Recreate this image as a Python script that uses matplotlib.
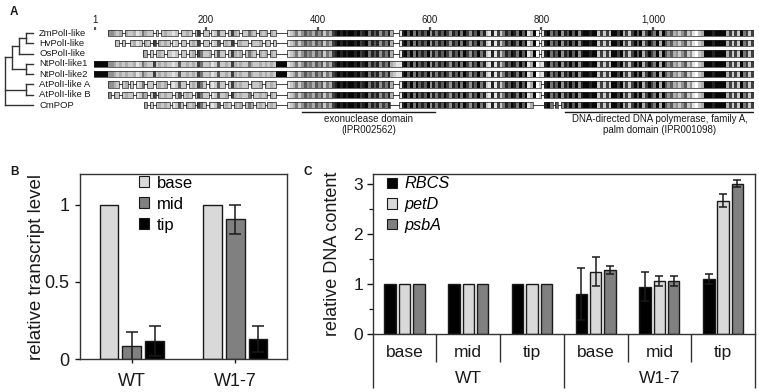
import matplotlib
matplotlib.use("Agg")
import matplotlib.pyplot as plt
from matplotlib.patches import Patch

plt.rcParams["font.family"] = ["Liberation Sans", "DejaVu Sans"]

# ---------------- panel A: alignment overview ----------------
seq_names = ["ZmPolI-like", "HvPolI-like", "OsPolI-like", "NtPolI-like1",
             "NtPolI-like2", "AtPolI-like A", "AtPolI-like B", "CmPOP"]
# tree topology, leaves are indices into seq_names
tree = ((((0, 1), 2), (3, 4)), (5, 6), 7)

# aligned stretches of each sequence (alignment columns, start/end)
zm_runs = [(25, 50), (55, 105), (110, 115), (120, 150), (155, 175), (180, 190), (195, 205),
           (210, 235), (240, 260), (265, 290), (295, 310), (315, 325), (345, 535), (545, 795),
           (800, 1180)]
hv_runs = [(38, 45), (50, 55), (65, 85), (90, 100), (105, 110), (115, 135), (140, 150),
           (155, 165), (170, 190), (195, 205), (210, 225), (230, 250), (255, 275), (280, 300),
           (305, 315), (320, 325), (345, 535), (545, 795), (800, 1180)]
os_runs = [(88, 95), (100, 105), (110, 125), (130, 150), (155, 165), (170, 180), (185, 210),
           (215, 235), (240, 265), (270, 290), (295, 310), (315, 325), (345, 535), (545, 795),
           (800, 1180)]
nt1_runs = [(0, 1180)]
nt2_runs = [(0, 1180)]
ata_runs = [(25, 45), (50, 60), (65, 70), (75, 90), (95, 105), (110, 130), (135, 165),
            (170, 200), (205, 235), (240, 275), (280, 300), (305, 325), (345, 535), (545, 800),
            (805, 1180)]
atb_runs = [(25, 30), (35, 45), (50, 70), (75, 95), (100, 110), (115, 140), (145, 155),
            (160, 175), (180, 205), (210, 240), (245, 280), (285, 310), (315, 325), (345, 535),
            (545, 800), (805, 1180)]
cm_runs = [(90, 95), (100, 105), (110, 135), (140, 160), (165, 180), (185, 200), (205, 225),
           (230, 245), (250, 265), (270, 285), (290, 305), (310, 325), (345, 530), (545, 785),
           (805, 820), (825, 830), (835, 1180)]
all_runs = [zm_runs, hv_runs, os_runs, nt1_runs, nt2_runs, ata_runs, atb_runs, cm_runs]

# conservation per 5-column bin (0 = low, 9 = identical)
conservation = ("9999944323" "2322312532" "2723232212" "6223232752" "2312622327"
                "3232253223" "2323299991" "2352464536" "4625378989" "8998978958"
                "6847583211" "8969596869" "4858697486" "9597486958" "2181725869"
                "8596913902" "1895869486" "9694899899" "2727299793" "7279693797"
                "5939646342" "4624102399" "9899993727" "295727")
bin_width = 5

ruler_ticks = [1, 200, 400, 600, 800, 1000]
ruler_labels = ["1", "200", "400", "600", "800", "1,000"]
domain_spans = [(372, 610), (842, 1180)]
domain_names = ["exonuclease domain\n(IPR002562)",
                "DNA-directed DNA polymerase, family A,\npalm domain (IPR001098)"]

# ---------------- panel B: transcript levels ----------------
lines_b = ["WT", "W1-7"]
base_level = [1.0, 1.0]
mid_level = [0.085, 0.905]
tip_level = [0.117, 0.13]
mid_err = [0.092, 0.092]
tip_err = [0.10, 0.087]

# ---------------- panel C: DNA content ----------------
sections = ["base", "mid", "tip", "base", "mid", "tip"]
lines_c = ["WT", "W1-7"]
rbcs = [1.0, 1.0, 1.0, 0.80, 0.95, 1.10]
rbcs_err = [0, 0, 0, 0.51, 0.28, 0.10]
petd = [1.0, 1.0, 1.0, 1.245, 1.07, 2.66]
petd_err = [0, 0, 0, 0.29, 0.10, 0.135]
psba = [1.0, 1.0, 1.0, 1.28, 1.07, 3.0]
psba_err = [0, 0, 0, 0.075, 0.10, 0.07]

LIGHT = "#d9d9d9"
MID = "#808080"
DARK = "#000000"
INK = "#1a1a1a"

W, H = 759, 392
fig = plt.figure(figsize=(W / 100, H / 100), dpi=100)


def frac(x0, y0, x1, y1):
    # pixel box (top-left origin) -> figure fraction rect
    return [x0 / W, 1 - y1 / H, (x1 - x0) / W, (y1 - y0) / H]


# row index r sits at pixel y = 33 + r * 10.29
ylim_a = ((135 - 33) / 10.29, (10 - 33) / 10.29)

# tree + names
ax_t = fig.add_axes(frac(0, 10, 94, 135))
ax_t.set_xlim(-5 / 7, 89 / 7)
ax_t.set_ylim(*ylim_a)
ax_t.axis("off")


def draw_clade(node):
    if isinstance(node, int):
        return 4, node
    kids = [draw_clade(c) for c in node]
    x = min(k[0] for k in kids) - 1
    ys = [k[1] for k in kids]
    ax_t.plot([x, x], [min(ys), max(ys)], color="#333333", lw=1)
    for kx, ky in kids:
        ax_t.plot([x, kx], [ky, ky], color="#333333", lw=1)
    return x, (min(ys) + max(ys)) / 2


draw_clade(tree)
for r, name in enumerate(seq_names):
    ax_t.text(4.86, r, name, ha="left", va="center", fontsize=6.8, color=INK)

# alignment blocks
ax_a = fig.add_axes(frac(94, 10, 754, 135))
ax_a.set_xlim(0, 1180)
ax_a.set_ylim(*ylim_a)
ax_a.axis("off")
h = 0.6
for r, runs in enumerate(all_runs):
    segs, cols = [], []
    for s, e in runs:
        for k in range(s // bin_width, (e - 1) // bin_width + 1):
            a = max(k * bin_width, s)
            b = min((k + 1) * bin_width, e)
            segs.append((a, b - a))
            cols.append(str(round(1 - 0.97 * int(conservation[k]) / 9, 3)))
    ax_a.broken_barh(segs, (r - h / 2, h), facecolors=cols, edgecolor="none")
    ax_a.broken_barh([(s, e - s) for s, e in runs], (r - h / 2, h),
                     facecolors="none", edgecolors="#222222", linewidth=0.5)
    for (s0, e0), (s1, e1) in zip(runs[:-1], runs[1:]):
        ax_a.plot([e0, s1], [r, r], color="#222222", lw=0.6)

for t, lab in zip(ruler_ticks, ruler_labels):
    ax_a.plot([t, t], [-0.6, -0.3], color="#555555", lw=1.6, solid_capstyle="butt")
    ax_a.text(t, -1.27, lab, ha="center", va="center", fontsize=7, color=INK)

for (s, e), name in zip(domain_spans, domain_names):
    ax_a.plot([s, e], [7.68, 7.68], color=INK, lw=1)
    ax_a.text((s + e) / 2, 7.9, name, ha="center", va="top", fontsize=7,
              color=INK, linespacing=1.15)

# ---------------- panel B ----------------
ax_b = fig.add_axes(frac(80, 174, 287, 359))
xb = range(len(lines_b))
bw = 0.18
off = 0.22
ax_b.bar([x - off for x in xb], base_level, bw, color=LIGHT, edgecolor=INK, lw=1, label="base")
ax_b.bar(list(xb), mid_level, bw, color=MID, edgecolor=INK, lw=1, label="mid")
ax_b.bar([x + off for x in xb], tip_level, bw, color=DARK, edgecolor=INK, lw=1, label="tip")
ax_b.errorbar(list(xb), mid_level, yerr=mid_err, fmt="none", ecolor=INK,
              elinewidth=1.1, capsize=4.3, capthick=1.1)
ax_b.errorbar([x + off for x in xb], tip_level, yerr=tip_err, fmt="none", ecolor=INK,
              elinewidth=1.1, capsize=4.3, capthick=1.1)
ax_b.set_xlim(-0.5, 1.5)
ax_b.set_ylim(0, 1.2)
ax_b.set_yticks([0, 0.5, 1])
ax_b.set_yticklabels(["0", "0.5", "1"])
ax_b.set_xticks(list(xb))
ax_b.set_xticklabels(lines_b)
ax_b.tick_params(axis="y", direction="out", length=3.5, width=1, pad=4, labelsize=13,
                 colors=INK)
ax_b.tick_params(axis="x", direction="out", length=3, width=1, pad=7, labelsize=13,
                 colors=INK)
ax_b.set_ylabel("relative transcript level", fontsize=13.5, color=INK)
ax_b.yaxis.set_label_coords(-0.17, 0.5)
for sp in ax_b.spines.values():
    sp.set_linewidth(1)
    sp.set_color("#333333")
hb = [Patch(facecolor=c, edgecolor=INK, lw=0.8) for c in (LIGHT, MID, DARK)]
ax_b.legend(hb, ["base", "mid", "tip"], loc="upper left", bbox_to_anchor=(0.275, 1.0),
            frameon=False, fontsize=12, handlelength=0.65, handleheight=0.65,
            handletextpad=0.45, labelspacing=0.36, borderpad=0.1, borderaxespad=0)

# ---------------- panel C ----------------
ax_c = fig.add_axes(frac(372.7, 174, 755, 334.3))
xc = list(range(len(sections)))
cw = 0.18
coff = 0.225
series = [(rbcs, rbcs_err, DARK, -coff), (petd, petd_err, LIGHT, 0), (psba, psba_err, MID, coff)]
for vals, errs, col, dx in series:
    ax_c.bar([x + dx for x in xc], vals, cw, color=col, edgecolor=INK, lw=1)
    idx = [i for i, e in enumerate(errs) if e > 0]
    ax_c.errorbar([xc[i] + dx for i in idx], [vals[i] for i in idx],
                  yerr=[errs[i] for i in idx], fmt="none", ecolor=INK,
                  elinewidth=1.1, capsize=2.6, capthick=1.1, zorder=3)
ax_c.set_xlim(-0.5, 5.5)
ax_c.set_ylim(0, 3.19)
ax_c.set_yticks([0, 1, 2, 3])
ax_c.set_yticks([0.5, 1.5, 2.5], minor=True)
ax_c.set_xticks([])
ax_c.tick_params(axis="y", which="major", direction="out", length=4.5, width=1, pad=2.5,
                 labelsize=12.5, colors=INK)
ax_c.tick_params(axis="y", which="minor", direction="out", length=3, width=0.9, colors=INK)
ax_c.set_ylabel("relative DNA content", fontsize=13, color=INK)
ax_c.yaxis.set_label_coords(-0.082, 0.5)
for sp in ax_c.spines.values():
    sp.set_linewidth(1)
    sp.set_color("#333333")

tx = ax_c.get_xaxis_transform()
ax_c.vlines([0.5, 1.5, 3.5, 4.5], 0, -0.175, transform=tx, clip_on=False,
            color="#333333", lw=1)
ax_c.vlines([-0.5, 2.5, 5.5], 0, -0.337, transform=tx, clip_on=False,
            color="#333333", lw=1)
for x, lab in zip(xc, sections):
    ax_c.text(x, -0.115, lab, transform=tx, ha="center", va="center", fontsize=12.5, color=INK)
for i, lab in enumerate(lines_c):
    ax_c.text(1 + 3 * i, -0.273, lab, transform=tx, ha="center", va="center",
              fontsize=12.5, color=INK)

hc = [Patch(facecolor=c, edgecolor=INK, lw=0.8) for c in (DARK, LIGHT, MID)]
ax_c.legend(hc, ["RBCS", "petD", "psbA"], loc="upper left", bbox_to_anchor=(0.033, 0.995),
            frameon=False, prop={"size": 11.7, "style": "italic"}, handlelength=0.6,
            handleheight=0.6, handletextpad=0.45, labelspacing=0.35, borderpad=0.1,
            borderaxespad=0)

# panel letters
for x, y, s in [(10, 12, "A"), (10, 172, "B"), (304, 172, "C")]:
    fig.text(x / W, 1 - y / H, s, fontsize=8.5, fontweight="bold", ha="left", va="center",
             color=INK)

fig.savefig("out.png", dpi=100)
